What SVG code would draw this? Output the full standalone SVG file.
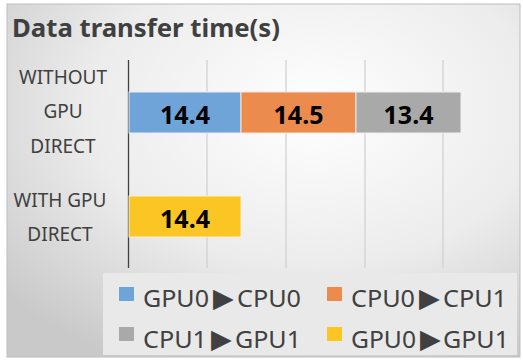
<svg xmlns="http://www.w3.org/2000/svg" width="523" height="360" viewBox="0 0 523 360">
<defs>
<radialGradient id="bg" cx="0.6" cy="0.3" r="0.8">
<stop offset="0" stop-color="#ffffff"/>
<stop offset="0.55" stop-color="#ececec"/>
<stop offset="1" stop-color="#c9c9c9"/>
</radialGradient>
<style>
.cat{font-family:"Noto Sans","Open Sans",sans-serif;font-size:19px;fill:#404040;text-anchor:middle}
.val{font-family:"Noto Sans","Open Sans",sans-serif;font-size:25px;font-weight:bold;fill:#000;text-anchor:middle}
.leg{font-family:"Noto Sans","Open Sans",sans-serif;font-size:24px;fill:#404040}
.tri{font-family:"DejaVu Sans",sans-serif;font-size:27px}
.grid{stroke:#cfcfcf;stroke-width:1.2}
</style>
</defs>
<rect x="0" y="0" width="523" height="360" fill="#ffffff"/>
<rect x="7" y="4" width="513" height="353" fill="url(#bg)" stroke="#bdbdbd" stroke-width="1"/>
<text x="12" y="37" font-family="Noto Sans, Open Sans, sans-serif" font-size="25" font-weight="bold" fill="#404040" textLength="268" lengthAdjust="spacingAndGlyphs">Data transfer time(s)</text>
<g id="grid">
<line class="grid" x1="207" y1="60" x2="207" y2="268"/>
<line class="grid" x1="286" y1="60" x2="286" y2="268"/>
<line class="grid" x1="365" y1="60" x2="365" y2="268"/>
<line class="grid" x1="443" y1="60" x2="443" y2="268"/>
<line x1="128.5" y1="60" x2="128.5" y2="268" stroke="#404040" stroke-width="1.3"/>
</g>
<g id="labels">
<text class="cat" x="63" y="84">WITHOUT</text>
<text class="cat" x="63" y="118">GPU</text>
<text class="cat" x="63" y="153">DIRECT</text>
<text class="cat" x="60" y="207">WITH GPU</text>
<text class="cat" x="60" y="241">DIRECT</text>
</g>
<g id="bar-gpu0-cpu0">
<rect x="129" y="92" width="112" height="41" fill="#6fa4d8" stroke="#e8eef5" stroke-width="1"/>
<text class="val" x="185" y="124">14.4</text>
</g>
<g id="bar-cpu0-cpu1">
<rect x="241" y="92" width="115" height="41" fill="#ec8b4e" stroke="#f5e6dc" stroke-width="1"/>
<text class="val" x="298.5" y="124">14.5</text>
</g>
<g id="bar-cpu1-gpu1">
<rect x="356" y="92" width="105" height="41" fill="#a9a9a9" stroke="#eeeeee" stroke-width="1"/>
<text class="val" x="408.5" y="124">13.4</text>
</g>
<g id="bar-gpu0-gpu1">
<rect x="129" y="196" width="112" height="41" fill="#fbc523" stroke="#fbf0cf" stroke-width="1"/>
<text class="val" x="185" y="228">14.4</text>
</g>
<g id="legend">
<rect x="103" y="273" width="414" height="82" fill="#e9e9e9"/>
<rect x="119" y="287" width="15" height="14" fill="#6fa4d8"/>
<text class="leg" y="307"><tspan x="143" textLength="66" lengthAdjust="spacingAndGlyphs">GPU0</tspan><tspan class="tri" x="213" y="307">▶</tspan><tspan x="237" y="307" textLength="64" lengthAdjust="spacingAndGlyphs">CPU0</tspan></text>
<rect x="327" y="287" width="15" height="14" fill="#ec8b4e"/>
<text class="leg" y="307"><tspan x="351" textLength="64" lengthAdjust="spacingAndGlyphs">CPU0</tspan><tspan class="tri" x="419" y="307">▶</tspan><tspan x="443" y="307" textLength="64" lengthAdjust="spacingAndGlyphs">CPU1</tspan></text>
<rect x="119" y="327" width="15" height="14" fill="#a9a9a9"/>
<text class="leg" y="348"><tspan x="143" textLength="64" lengthAdjust="spacingAndGlyphs">CPU1</tspan><tspan class="tri" x="211" y="348">▶</tspan><tspan x="235" y="348" textLength="66" lengthAdjust="spacingAndGlyphs">GPU1</tspan></text>
<rect x="327" y="327" width="15" height="14" fill="#fbc523"/>
<text class="leg" y="348"><tspan x="351" textLength="65" lengthAdjust="spacingAndGlyphs">GPU0</tspan><tspan class="tri" x="420" y="348">▶</tspan><tspan x="443" y="348" textLength="66" lengthAdjust="spacingAndGlyphs">GPU1</tspan></text>
</g>
</svg>
